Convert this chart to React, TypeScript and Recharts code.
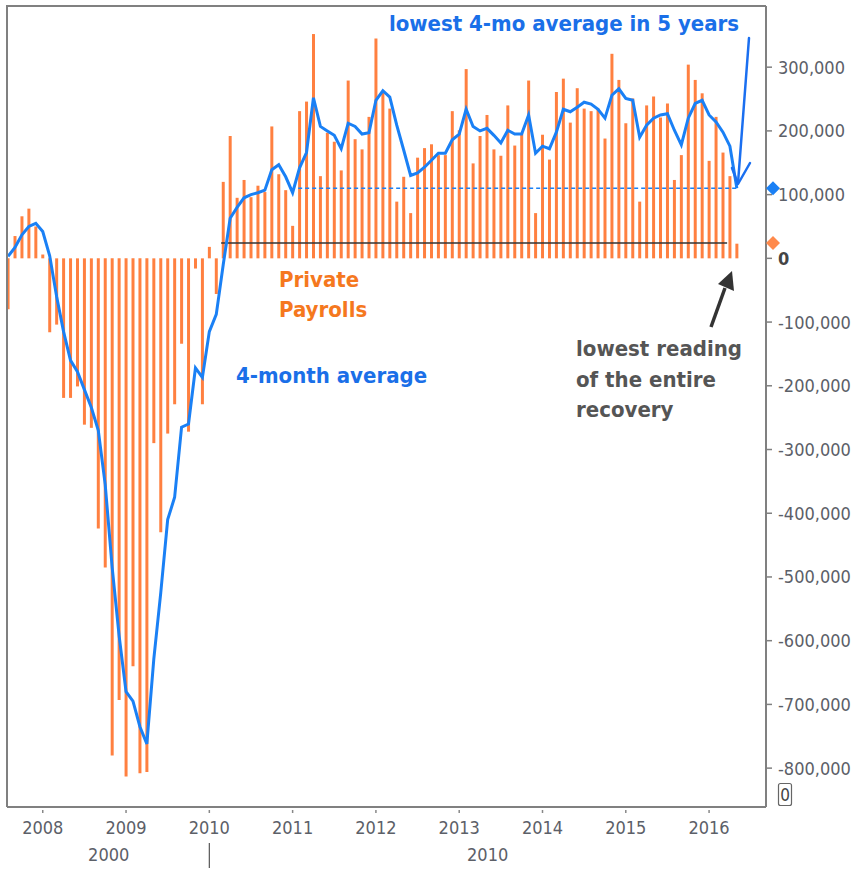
import React from "react";
import {
  ComposedChart,
  Bar,
  Line,
  XAxis,
  YAxis,
  ReferenceLine,
  ReferenceDot,
} from "recharts";

// monthly change in private payrolls, thousands (Aug 2007 .. May 2016)
const payrolls2007 = [-80, 35, 66, 78, 50];
const payrolls2008 = [6, -116, -104, -219, -219, -201, -261, -266, -424, -485, -780, -693];
const payrolls2009 = [-813, -640, -808, -806, -290, -430, -275, -229, -134, -272, -16, -229];
const payrolls2010 = [18, -56, 120, 192, 95, 123, 96, 114, 104, 207, 132, 107];
const payrolls2011 = [51, 231, 246, 352, 129, 197, 183, 138, 279, 187, 171, 222];
const payrolls2012 = [345, 262, 235, 89, 128, 71, 158, 173, 179, 162, 162, 231];
const payrolls2013 = [201, 297, 149, 192, 225, 171, 161, 240, 177, 196, 279, 71];
const payrolls2014 = [194, 155, 261, 282, 213, 267, 235, 231, 235, 188, 321, 280];
const payrolls2015 = [212, 251, 89, 240, 254, 221, 243, 123, 162, 304, 280, 259];
const payrolls2016 = [153, 222, 166, 129, 23];

// 4-month average, thousands
const avg2007 = [3, 17, 37, 50, 55];
const avg2008 = [42, 4, -60, -115, -160, -178, -206, -234, -270, -355, -485, -592];
const avg2009 = [-680, -695, -735, -762, -629, -525, -410, -375, -265, -260, -172, -187];
const avg2010 = [-115, -88, -10, 63, 80, 95, 100, 103, 107, 139, 147, 128];
const avg2011 = [103, 142, 166, 252, 207, 200, 193, 172, 212, 207, 195, 197];
const avg2012 = [248, 263, 253, 209, 170, 130, 134, 143, 154, 165, 165, 186];
const avg2013 = [195, 234, 207, 200, 204, 193, 181, 201, 195, 195, 225, 165];
const avg2014 = [176, 172, 198, 234, 230, 237, 245, 242, 234, 220, 256, 266];
const avg2015 = [251, 248, 190, 209, 220, 225, 227, 201, 178, 220, 243, 248];
const avg2016 = [225, 214, 198, 176, 110];

const payrolls = [
  ...payrolls2007, ...payrolls2008, ...payrolls2009, ...payrolls2010, ...payrolls2011,
  ...payrolls2012, ...payrolls2013, ...payrolls2014, ...payrolls2015, ...payrolls2016,
];
const fourMonthAvg = [
  ...avg2007, ...avg2008, ...avg2009, ...avg2010, ...avg2011,
  ...avg2012, ...avg2013, ...avg2014, ...avg2015, ...avg2016,
];

// x = months since Jan 2008, first point is Aug 2007
const FIRST_MONTH = -5;
const yearTicks = [0, 12, 24, 36, 48, 60, 72, 84, 96];
const valueTicks = [-800, -700, -600, -500, -400, -300, -200, -100, 0, 100, 200, 300];
const decadeTicks = [9.5, 24, 64.1];
const decadeLabels: Record<string, string> = { "9.5": "2000", "24": "|", "64.1": "2010" };

const lastReading = 24;
const lastAvg = 110;

const X_DOMAIN = [-5.15, 104.2];
const Y_DOMAIN = [-861, 396];

const FONT = "'DejaVu Sans Condensed', 'DejaVu Sans', Verdana, sans-serif";
const ORANGE = "#ff8040";
const BLUE = "#1a80f5";
const TEXT_BLUE = "#1a6fe8";
const GREY = "#5c6068";

const data = payrolls.map((v, i) => ({
  m: FIRST_MONTH + i,
  payrolls: v,
  avg: fourMonthAvg[i],
}));

function YearTick({ x, y, payload }: any) {
  return (
    <g>
      <line x1={x} x2={x} y1={y + 3} y2={y + 6} stroke="#888" strokeWidth={1.5} />
      <text x={x} y={y + 27} textAnchor="middle" fill={GREY} fontSize={18}
        fontFamily={FONT} style={{ fontStretch: "condensed" }}>
        {2008 + payload.value / 12}
      </text>
    </g>
  );
}

function DecadeTick({ x, y, payload }: any) {
  const label = decadeLabels[String(payload.value)];
  if (label === "|") {
    return <line x1={x} x2={x} y1={y + 6} y2={y + 31} stroke="#555" strokeWidth={1.2} />;
  }
  return (
    <text x={x} y={y + 24} textAnchor="middle" fill={GREY} fontSize={18}
      fontFamily={FONT} style={{ fontStretch: "condensed" }}>
      {label}
    </text>
  );
}

function ValueTick({ x, y, payload }: any) {
  const v = payload.value;
  return (
    <text x={x} y={y} dy="0.36em" textAnchor="start" fill={v === 0 ? "#444" : GREY}
      fontSize={18} fontWeight={v === 0 ? "bold" : "normal"} fontFamily={FONT}
      style={{ fontStretch: "condensed" }}>
      {(v * 1000).toLocaleString("en-US")}
    </text>
  );
}

// marker drawn just outside the right edge of the plot
function Diamond({ cx, cy, fill }: any) {
  const r = 7;
  const x = cx + 7;
  return (
    <polygon
      points={`${x},${cy - r} ${x + r},${cy} ${x},${cy + r} ${x - r},${cy}`}
      fill={fill}
      stroke="none"
    />
  );
}

export default function App() {
  const txt = { fontFamily: FONT, fontWeight: "bold" as const, fontStretch: "condensed" };
  return (
    <div style={{ position: "absolute", left: 0, top: 0, width: 856, height: 869, background: "#fff" }}>
      <ComposedChart
        width={856}
        height={869}
        data={data}
        margin={{ top: 6, right: 0, bottom: 0, left: 7 }}
      >
        <XAxis
          xAxisId="a"
          dataKey="m"
          type="number"
          domain={X_DOMAIN}
          ticks={yearTicks}
          interval={0}
          allowDataOverflow
          tick={<YearTick />}
          tickLine={false}
          tickSize={0}
          tickMargin={0}
          axisLine={{ stroke: "#808080", strokeWidth: 2 }}
          height={30}
        />
        <XAxis
          xAxisId="b"
          dataKey="m"
          type="number"
          domain={X_DOMAIN}
          ticks={decadeTicks}
          interval={0}
          allowDataOverflow
          tick={<DecadeTick />}
          tickLine={false}
          tickSize={0}
          tickMargin={0}
          axisLine={false}
          height={32}
        />
        <YAxis
          yAxisId="v"
          orientation="right"
          type="number"
          domain={Y_DOMAIN}
          ticks={valueTicks}
          interval={0}
          allowDataOverflow
          width={90}
          tick={<ValueTick />}
          tickSize={6}
          tickMargin={6}
          tickLine={{ stroke: "#808080", strokeWidth: 1.5 }}
          axisLine={{ stroke: "#808080", strokeWidth: 2 }}
        />
        <Bar
          xAxisId="a"
          yAxisId="v"
          dataKey="payrolls"
          fill={ORANGE}
          barSize={3}
          isAnimationActive={false}
        />
        <ReferenceLine
          xAxisId="a"
          yAxisId="v"
          segment={[{ x: 25.7, y: lastReading }, { x: 98.6, y: lastReading }]}
          stroke="#333"
          strokeWidth={1.5}
        />
        <ReferenceLine
          xAxisId="a"
          yAxisId="v"
          segment={[{ x: 36.8, y: lastAvg }, { x: 100, y: lastAvg }]}
          stroke={BLUE}
          strokeWidth={1.5}
          strokeDasharray="4 3"
        />
        <Line
          xAxisId="a"
          yAxisId="v"
          dataKey="avg"
          type="linear"
          stroke={BLUE}
          strokeWidth={3}
          dot={false}
          isAnimationActive={false}
        />
        <ReferenceDot xAxisId="a" yAxisId="v" x={X_DOMAIN[1]} y={lastAvg} ifOverflow="visible"
          fill="#1a80f5" stroke="none" shape={<Diamond />} />
        <ReferenceDot xAxisId="a" yAxisId="v" x={X_DOMAIN[1]} y={lastReading} ifOverflow="visible"
          fill="#ff8a4c" stroke="none" shape={<Diamond />} />
      </ComposedChart>

      <svg width={856} height={869} style={{ position: "absolute", left: 0, top: 0, pointerEvents: "none" }}>
        {/* plot frame, top and left */}
        <polyline points="7,807 7,6 766,6" fill="none" stroke="#808080" strokeWidth={2} />

        <text x={564} y={31} textAnchor="middle" fontSize={22} fill={TEXT_BLUE} style={txt}>
          lowest 4-mo average in 5 years
        </text>
        <text x={279} y={287} fontSize={22} fill="#f5781e" style={txt}>Private</text>
        <text x={279} y={317} fontSize={22} fill="#f5781e" style={txt}>Payrolls</text>
        <text x={236} y={383} fontSize={22} fill={TEXT_BLUE} style={txt}>4-month average</text>
        <text x={576} y={356} fontSize={22} fill="#555" style={txt}>lowest reading</text>
        <text x={576} y={387} fontSize={22} fill="#555" style={txt}>of the entire</text>
        <text x={576} y={417} fontSize={22} fill="#555" style={txt}>recovery</text>

        {/* blue arrow */}
        <g stroke="#1a6ff0" strokeWidth={2.5} fill="none" strokeLinecap="round" strokeLinejoin="round">
          <line x1={749} y1={38} x2={738} y2={183} />
          <polyline points="732,168 738,184 750,163" />
        </g>

        {/* black arrow */}
        <line x1={711} y1={327} x2={725} y2={288} stroke="#333" strokeWidth={3.5} />
        <polygon points="732,271 718,284 734,291" fill="#333" />

        {/* boxed zero */}
        <rect x={778.5} y={783.5} width={13} height={22} rx={2} fill="#fff" stroke="#666" strokeWidth={1.2} />
        <text x={785} y={801} textAnchor="middle" fontSize={17} fill="#444" style={{ fontFamily: FONT }}>0</text>
      </svg>
    </div>
  );
}
